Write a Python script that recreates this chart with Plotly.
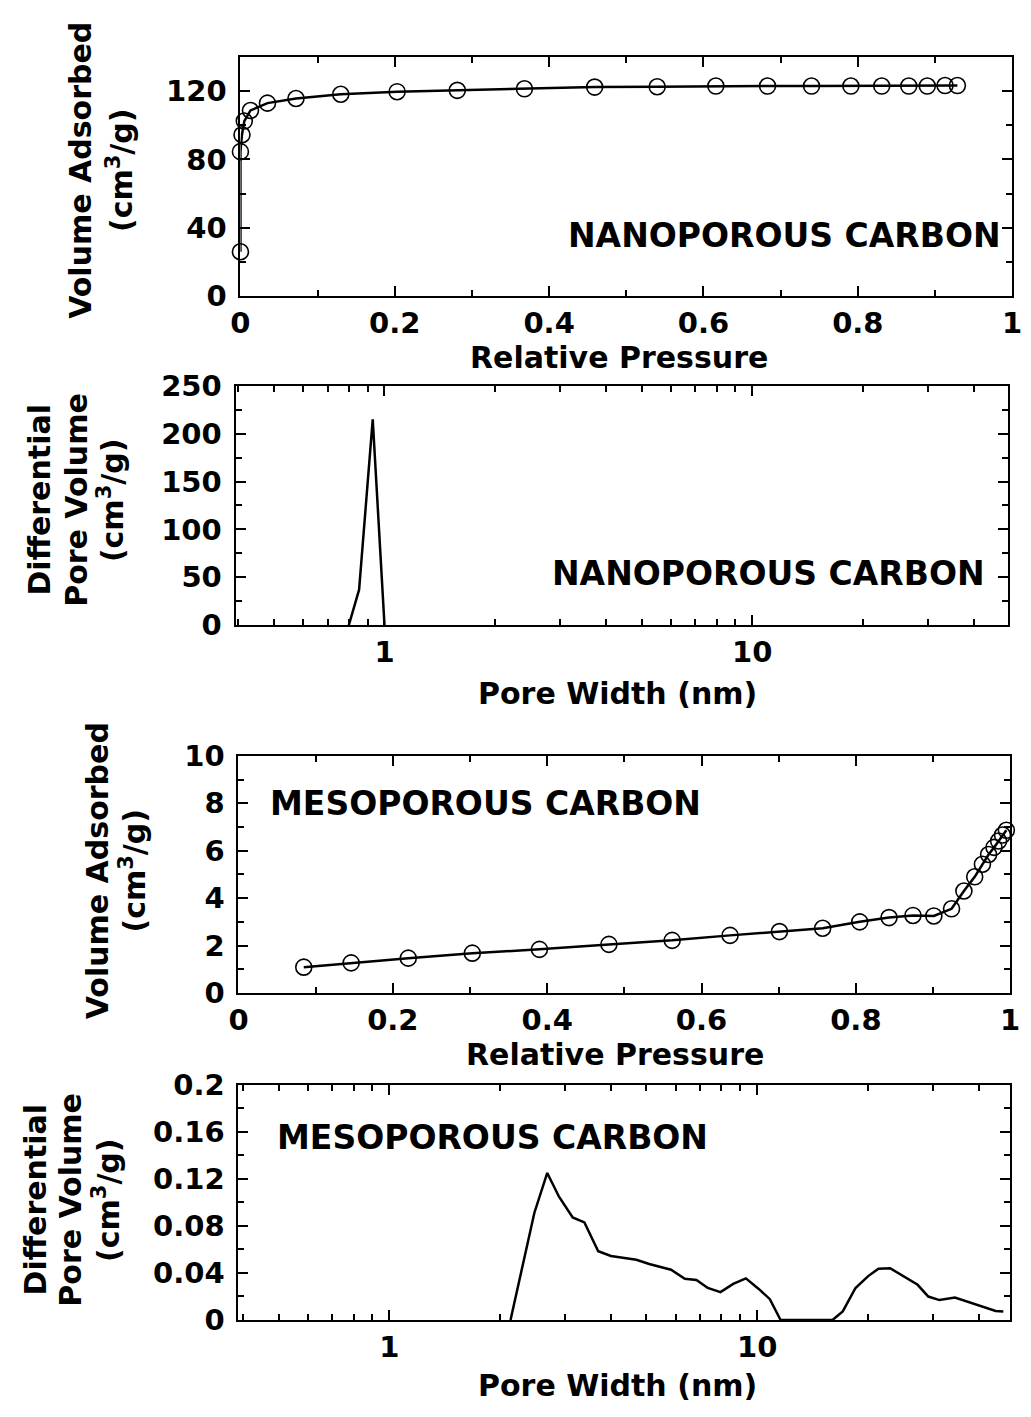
import plotly.graph_objects as go

# ---------------- data ----------------
# Panel 1: nanoporous carbon isotherm
p1_pressure = [0.0, 0.0, 0.002, 0.005, 0.013, 0.035, 0.072, 0.13, 0.203, 0.281, 0.368,
               0.459, 0.540, 0.616, 0.683, 0.740, 0.791, 0.831, 0.866, 0.890, 0.913, 0.929]
p1_volume = [26, 84.6, 94.5, 102.5, 108.7, 113, 115.7, 118.2, 119.7, 120.5, 121.4,
             122.4, 122.6, 123, 123, 123, 123, 123, 123, 123, 123.3, 123.3]

# Panel 2: nanoporous carbon pore size distribution
p2_width = [0.80, 0.853, 0.929, 1.0]
p2_dv = [0, 37, 215, 0]

# Panel 3: mesoporous carbon isotherm
p3_pressure = [0.0846, 0.146, 0.220, 0.303, 0.390, 0.480, 0.562, 0.637, 0.701, 0.757, 0.805,
               0.843, 0.874, 0.901, 0.924, 0.940, 0.954, 0.964, 0.972, 0.979, 0.985, 0.990, 0.995]
p3_volume = [1.09, 1.27, 1.47, 1.68, 1.84, 2.05, 2.22, 2.43, 2.59, 2.73, 3.0,
             3.18, 3.27, 3.25, 3.55, 4.3, 4.9, 5.43, 5.84, 6.14, 6.41, 6.66, 6.86]

# Panel 4: mesoporous carbon pore size distribution
p4_width = [2.136, 2.48, 2.688, 2.893, 3.152, 3.392, 3.698, 4.004, 4.406, 4.696, 5.087,
            5.508, 5.834, 6.36, 6.84, 7.34, 7.95, 8.61, 9.32, 10.1, 10.83, 11.58,
            16.03, 17.09, 18.51, 20.04, 21.36, 22.99, 25.06, 27.31, 29.2, 31.3,
            34.5, 37.9, 41.1, 44.5, 46.7]
p4_dv = [0, 0.0912, 0.125, 0.1048, 0.0871, 0.083, 0.0585, 0.0544, 0.0525, 0.0512, 0.0476,
         0.0444, 0.0427, 0.0351, 0.034, 0.0272, 0.0237, 0.0307, 0.0354, 0.0264, 0.0177, 0,
         0, 0.0073, 0.0272, 0.0373, 0.0435, 0.044, 0.0373, 0.0299, 0.0199, 0.0169,
         0.019, 0.015, 0.0109, 0.0076, 0.0073]

log_major = [1, 10]
log_major_text = ["1", "10"]
log_minor = [0.4, 0.5, 0.6, 0.7, 0.8, 0.9, 2, 3, 4, 5, 6, 7, 8, 9, 20, 30, 40, 50]

# ---------------- layout helpers ----------------
W, H = 1031, 1417


def fx(px):
    return px / W


def fy(py):
    return 1 - py / H


TITLE_FONT = dict(family="DejaVu Sans", size=30, color="black", weight="bold")
TICK_FONT = dict(family="DejaVu Sans", size=29, color="black", weight="bold")
LABEL_FONT = dict(family="DejaVu Sans", size=33, color="black", weight="bold")

common = dict(showline=True, linecolor="black", linewidth=2, mirror="ticks",
              ticks="inside", ticklen=10, tickwidth=2, tickcolor="black",
              showgrid=False, zeroline=False, tickfont=TICK_FONT)
minor_common = dict(ticks="inside", ticklen=6, tickwidth=1.5, tickcolor="black", showgrid=False)

fig = go.Figure()

line_style = dict(color="black", width=2.5)
marker_style = dict(symbol="circle-open", size=16, color="black", line=dict(width=1.6, color="black"))

fig.add_trace(go.Scatter(x=p1_pressure, y=p1_volume, mode="lines+markers", line=line_style,
                         marker=marker_style, xaxis="x", yaxis="y", cliponaxis=False))
fig.add_trace(go.Scatter(x=p2_width, y=p2_dv, mode="lines", line=line_style,
                         xaxis="x2", yaxis="y2"))
fig.add_trace(go.Scatter(x=p3_pressure, y=p3_volume, mode="lines+markers", line=line_style,
                         marker=marker_style, xaxis="x3", yaxis="y3", cliponaxis=False))
fig.add_trace(go.Scatter(x=p4_width, y=p4_dv, mode="lines", line=line_style,
                         xaxis="x4", yaxis="y4"))

# panel pixel boxes: (left, right, top, bottom)
b1 = (235, 1022, 41, 286)
b2 = (230, 1018, 378, 623)
b3 = (233, 1020, 757, 1000)
b4 = (233, 1020, 1094, 1335)


def dom(b):
    return [fx(b[0]), fx(b[1])], [fy(b[3]), fy(b[2])]


d1x, d1y = dom(b1)
d2x, d2y = dom(b2)
d3x, d3y = dom(b3)
d4x, d4y = dom(b4)

XSO = 0
YSO = 6

fig.update_layout(
    width=W, height=H, margin=dict(l=0, r=0, t=0, b=0),
    plot_bgcolor="white", paper_bgcolor="white", showlegend=False,
    xaxis=dict(domain=d1x, anchor="y", range=[0, 1], dtick=0.2, tick0=0,
               minor=dict(dtick=0.1, **minor_common), ticklabelstandoff=XSO, **common),
    yaxis=dict(domain=d1y, anchor="x", range=[0, 140], dtick=40, tick0=0,
               minor=dict(dtick=20, **minor_common), ticklabelstandoff=YSO, **common),
    xaxis2=dict(domain=d2x, anchor="y2", type="log", range=[-0.405, 1.696],
                tickmode="array", tickvals=log_major, ticktext=log_major_text,
                minor=dict(tickmode="array", tickvals=log_minor, **minor_common),
                ticklabelstandoff=XSO, **common),
    yaxis2=dict(domain=d2y, anchor="x2", range=[0, 250], dtick=50, tick0=0,
                minor=dict(dtick=25, **minor_common), ticklabelstandoff=YSO, **common),
    xaxis3=dict(domain=d3x, anchor="y3", range=[0, 1], dtick=0.2, tick0=0,
                minor=dict(dtick=0.1, **minor_common), ticklabelstandoff=XSO, **common),
    yaxis3=dict(domain=d3y, anchor="x3", range=[0, 10], dtick=2, tick0=0,
                minor=dict(dtick=1, **minor_common), ticklabelstandoff=YSO, **common),
    xaxis4=dict(domain=d4x, anchor="y4", type="log", range=[-0.41, 1.688],
                tickmode="array", tickvals=log_major, ticktext=log_major_text,
                minor=dict(tickmode="array", tickvals=log_minor, **minor_common),
                ticklabelstandoff=XSO, **common),
    yaxis4=dict(domain=d4y, anchor="x4", range=[0, 0.2], dtick=0.04, tick0=0,
                minor=dict(dtick=0.02, **minor_common), ticklabelstandoff=YSO, **common),
)


def ann(text, px, py, font, angle=0):
    fig.add_annotation(text=text, x=fx(px), y=fy(py), xref="paper", yref="paper",
                       xanchor="center", yanchor="middle", showarrow=False,
                       textangle=angle, font=font)


# x-axis titles
ann("Relative Pressure", 621, 349, TITLE_FONT)
ann("Pore Width (nm)", 620, 693, TITLE_FONT)
ann("Relative Pressure", 617, 1063, TITLE_FONT)
ann("Pore Width (nm)", 620, 1402, TITLE_FONT)

# y-axis titles
ann("Volume Adsorbed", 72, 157, TITLE_FONT, -90)
ann("(cm<sup>3</sup>/g)", 112, 157, TITLE_FONT, -90)

ann("Differential", 30, 495, TITLE_FONT, -90)
ann("Pore Volume", 67, 495, TITLE_FONT, -90)
ann("(cm<sup>3</sup>/g)", 103, 495, TITLE_FONT, -90)

ann("Volume Adsorbed", 89, 875, TITLE_FONT, -90)
ann("(cm<sup>3</sup>/g)", 125, 875, TITLE_FONT, -90)

ann("Differential", 26, 1212, TITLE_FONT, -90)
ann("Pore Volume", 62, 1212, TITLE_FONT, -90)
ann("(cm<sup>3</sup>/g)", 99, 1212, TITLE_FONT, -90)

# in-plot labels
ann("NANOPOROUS CARBON", 790, 224, LABEL_FONT)
ann("NANOPOROUS CARBON", 774, 570, LABEL_FONT)
ann("MESOPOROUS CARBON", 485, 806, LABEL_FONT)
ann("MESOPOROUS CARBON", 492, 1148, LABEL_FONT)

fig.write_html("out.html")
